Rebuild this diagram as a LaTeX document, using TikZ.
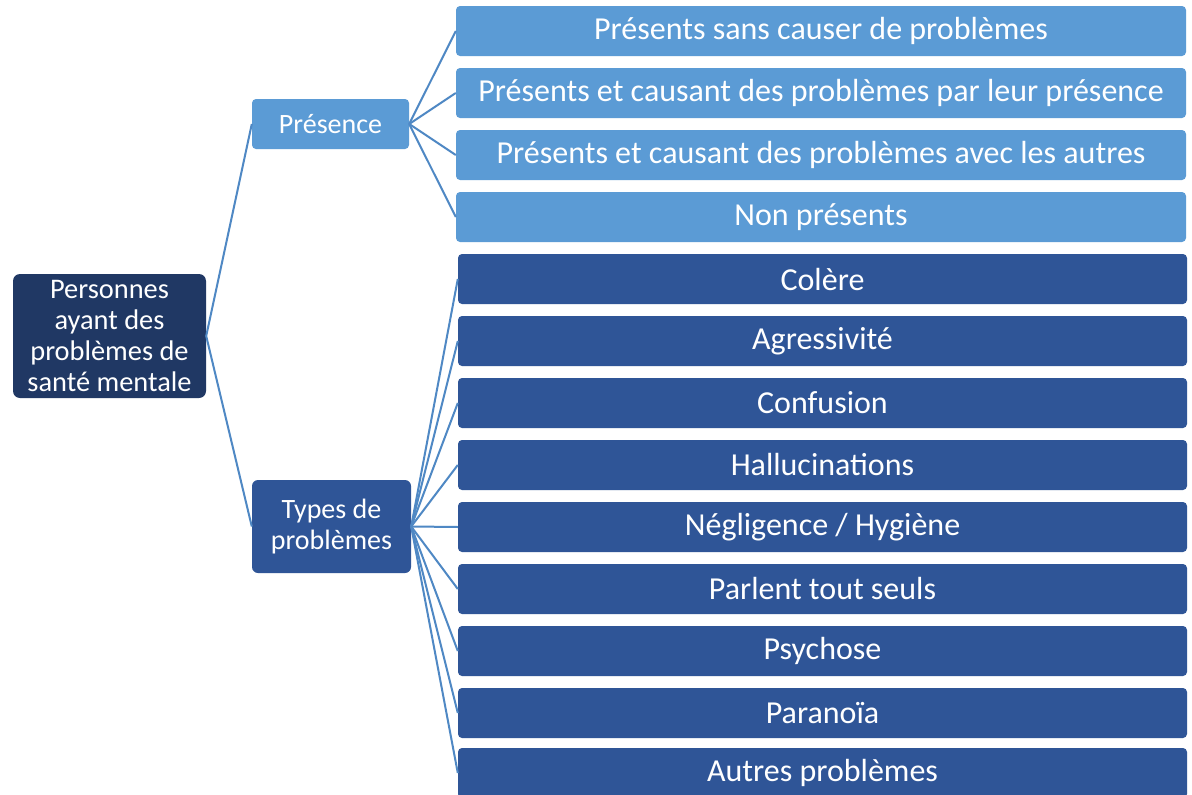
\documentclass[tikz,border=0pt]{standalone}
\usepackage{fontspec}
\setmainfont{Carlito}
\definecolor{rootc}{HTML}{203864}
\definecolor{lightc}{HTML}{5B9BD5}
\definecolor{darkc}{HTML}{2F5597}
\definecolor{linec}{HTML}{4F88C4}
\begin{document}
\begin{tikzpicture}[x=1pt,y=-1pt,
  box/.style={text=white,inner sep=0pt,align=center,rounded corners=4pt},
  lbox/.style={box,fill=lightc,minimum width=730pt,minimum height=50pt,font=\fontsize{32}{36}\selectfont},
  dbox/.style={box,fill=darkc,minimum width=729pt,minimum height=50pt,font=\fontsize{32}{36}\selectfont},
  conn/.style={draw=linec,line width=2pt}]
\clip (0,0) rectangle (1192,795);
\fill[white] (0,0) rectangle (1192,795);
\node[box,fill=rootc,minimum width=193pt,minimum height=124pt,rounded corners=7pt,font=\fontsize{28.4}{31}\selectfont] (root) at (109.5,336) {Personnes\\ayant des\\problèmes de\\santé mentale};
\node[box,fill=lightc,minimum width=157pt,minimum height=50pt,font=\fontsize{28}{31}\selectfont] (pres) at (330.5,124) {Présence};
\node[box,fill=darkc,minimum width=159pt,minimum height=93pt,rounded corners=6pt,font=\fontsize{28}{31}\selectfont] (types) at (331.5,526.5) {Types de\\problèmes};
\node[lbox] (l1) at (821,31) {Présents sans causer de problèmes};
\node[lbox] (l2) at (821,93) {Présents et causant des problèmes par leur présence};
\node[lbox] (l3) at (821,155) {Présents et causant des problèmes avec les autres};
\node[lbox] (l4) at (821,217) {Non présents};
\node[dbox] (d1) at (822.5,279) {Colère};
\node[dbox] (d2) at (822.5,341) {Agressivité};
\node[dbox] (d3) at (822.5,403) {Confusion};
\node[dbox] (d4) at (822.5,465) {Hallucinations};
\node[dbox] (d5) at (822.5,527) {Négligence / Hygiène};
\node[dbox] (d6) at (822.5,589) {Parlent tout seuls};
\node[dbox] (d7) at (822.5,651) {Psychose};
\node[dbox] (d8) at (822.5,713) {Paranoïa};
\node[dbox] (d9) at (822.5,773) {Autres problèmes};
\draw[conn] (root.east) -- (pres.west);
\draw[conn] (root.east) -- (types.west);
\foreach \i in {1,...,4} {\draw[conn] (pres.east) -- (l\i.west);}
\foreach \i in {1,...,9} {\draw[conn] (types.east) -- (d\i.west);}
\end{tikzpicture}
\end{document}
